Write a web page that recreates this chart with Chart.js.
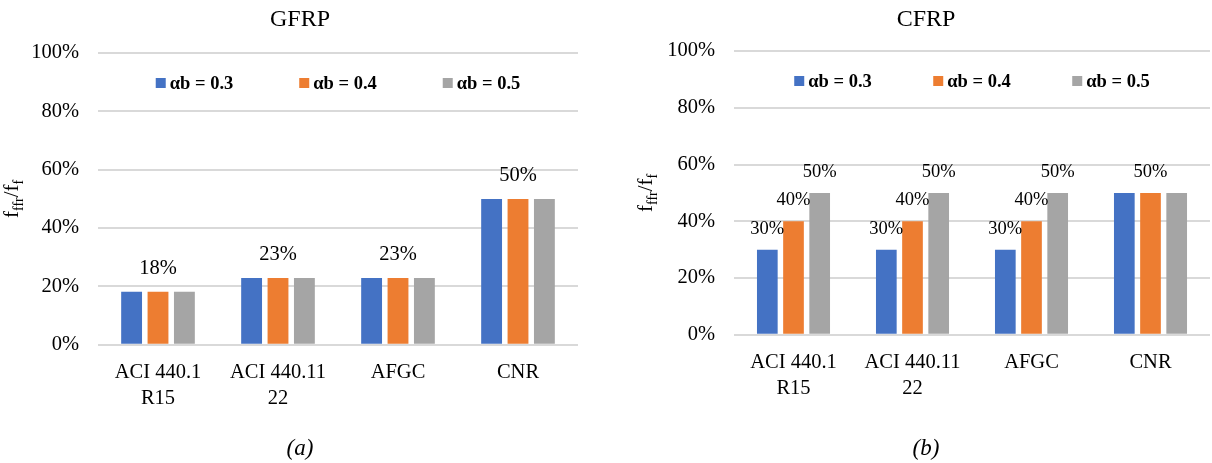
<!DOCTYPE html>
<html>
<head>
<meta charset="utf-8">
<script src="https://cdn.jsdelivr.net/npm/chart.js@4/dist/chart.umd.min.js"></script>
<style>
  body { margin: 0; background: #fff; width: 1212px; height: 463px; overflow: hidden; position: relative; }
  #gfrpChart { position: absolute; left: 0; top: 0; }
  #cfrpChart { position: absolute; left: 636px; top: 0; }
</style>
</head>
<body>
<canvas id="gfrpChart" width="600" height="463"></canvas>
<canvas id="cfrpChart" width="576" height="463"></canvas>
<script>
const labels = [['ACI 440.1', 'R15'], ['ACI 440.11', '22'], 'AFGC', 'CNR'];
const seriesNames = ['αb = 0.3', 'αb = 0.4', 'αb = 0.5'];
const colors = ['#4472C4', '#ED7D31', '#A5A5A5'];

// GFRP values (%)
const gfrp03 = [18.2, 22.9, 22.9, 50];
const gfrp04 = [18.2, 22.9, 22.9, 50];
const gfrp05 = [18.2, 22.9, 22.9, 50];
// CFRP values (%)
const cfrp03 = [30, 30, 30, 50];
const cfrp04 = [40, 40, 40, 50];
const cfrp05 = [50, 50, 50, 50];

// which bars carry a value label (per series, per category)
const gfrpShown = [[0, 0, 0, 0], [1, 1, 1, 1], [0, 0, 0, 0]];
const cfrpShown = [[1, 1, 1, 0], [1, 1, 1, 1], [1, 1, 1, 0]];

const serif = "'Liberation Serif', 'Times New Roman', serif";
Chart.defaults.font.family = serif;
Chart.defaults.color = '#000';

// value labels above bars
const valueLabels = {
  id: 'valueLabels',
  afterDatasetsDraw(chart, args, opts) {
    const ctx = chart.ctx;
    ctx.save();
    ctx.font = opts.size + 'px ' + serif;
    ctx.fillStyle = '#000';
    ctx.textAlign = 'center';
    ctx.textBaseline = 'middle';
    chart.data.datasets.forEach((ds, i) => {
      chart.getDatasetMeta(i).data.forEach((bar, j) => {
        if (!opts.shown[i][j]) return;
        ctx.fillText(Math.round(ds.data[j]) + '%', bar.x, bar.y - opts.offset);
      });
    });
    ctx.restore();
  }
};

// legend drawn inside the plot area
const insideLegend = {
  id: 'insideLegend',
  afterDraw(chart, args, opts) {
    const ctx = chart.ctx, area = chart.chartArea;
    const items = chart.data.datasets;
    ctx.save();
    ctx.font = 'bold ' + opts.size + 'px ' + serif;
    ctx.textBaseline = 'middle';
    const total = opts.spacing * (items.length - 1) + 14 + ctx.measureText(items[items.length - 1].label).width;
    let x = (area.left + area.right) / 2 - total / 2;
    const y = area.top + opts.offset;
    items.forEach(ds => {
      ctx.fillStyle = ds.backgroundColor;
      ctx.fillRect(x, y - 5, 10, 10);
      ctx.fillStyle = '#000';
      ctx.fillText(ds.label, x + 14, y + 1);
      x += opts.spacing;
    });
    ctx.restore();
  }
};

// y axis title f_ffr / f_f
const yTitle = {
  id: 'yTitle',
  afterDraw(chart, args, opts) {
    const ctx = chart.ctx, area = chart.chartArea;
    const parts = [['f', false], ['ffr', true], ['/f', false], ['f', true]];
    const mainFont = opts.size + 'px ' + serif;
    const subFont = opts.subSize + 'px ' + serif;
    ctx.save();
    let w = 0;
    parts.forEach(p => { ctx.font = p[1] ? subFont : mainFont; w += ctx.measureText(p[0]).width; });
    ctx.translate(opts.x, (area.top + area.bottom) / 2);
    ctx.rotate(-Math.PI / 2);
    ctx.fillStyle = '#000';
    ctx.textBaseline = 'alphabetic';
    let x = -w / 2;
    parts.forEach(p => {
      ctx.font = p[1] ? subFont : mainFont;
      ctx.fillText(p[0], x, p[1] ? opts.subShift : 0);
      x += ctx.measureText(p[0]).width;
    });
    ctx.restore();
  }
};

function makeConfig(series, title, caption, o) {
  return {
    type: 'bar',
    data: {
      labels: labels,
      datasets: series.map((d, i) => ({
        label: seriesNames[i],
        data: d,
        backgroundColor: colors[i],
        categoryPercentage: 0.66,
        barPercentage: 0.79
      }))
    },
    options: {
      responsive: false,
      animation: false,
      events: [],
      layout: { padding: { left: o.padLeft, right: o.padRight, top: 0, bottom: 0 } },
      scales: {
        x: {
          grid: { display: false },
          border: { display: false },
          ticks: { font: { size: 20.5, lineHeight: '26px' }, padding: 7, color: '#000', maxRotation: 0, autoSkip: false },
          afterFit(scale) { scale.height = o.xHeight; }
        },
        y: {
          min: 0,
          max: 100,
          grid: { color: '#d9d9d9', lineWidth: 2, drawTicks: false },
          border: { display: false },
          ticks: { stepSize: 20, padding: 19, font: { size: 20.5 }, color: '#000', callback: v => v + '%' },
          afterFit(scale) { scale.width = o.yWidth; }
        }
      },
      plugins: {
        legend: { display: false },
        tooltip: { enabled: false },
        title: { display: true, text: title, font: { size: 24, weight: 'normal' }, color: '#000', padding: { top: 5.5, bottom: o.titleBottom } },
        subtitle: { display: true, position: 'bottom', text: caption, font: { size: 23, style: 'italic' }, color: '#000', padding: 0 },
        valueLabels: { size: o.labelSize, offset: o.labelOffset, shown: o.shown },
        insideLegend: { size: 18.5, spacing: o.legendSpacing, offset: 30 },
        yTitle: { x: o.yTitleX, size: 21, subSize: 14, subShift: 5 }
      }
    },
    plugins: [valueLabels, insideLegend, yTitle]
  };
}

var gfrpChart = new Chart(document.getElementById('gfrpChart'),
  makeConfig([gfrp03, gfrp04, gfrp05], 'GFRP', '(a)', {
    padLeft: 22, padRight: 22, yWidth: 76, xHeight: 90.6, titleBottom: 18.7,
    labelSize: 20.5, labelOffset: 23, shown: gfrpShown, legendSpacing: 143.5, yTitleX: 18
  }));

var cfrpChart = new Chart(document.getElementById('cfrpChart'),
  makeConfig([cfrp03, cfrp04, cfrp05], 'CFRP', '(b)', {
    padLeft: 6, padRight: 2, yWidth: 92, xHeight: 100.6, titleBottom: 16.7,
    labelSize: 18.5, labelOffset: 21, shown: cfrpShown, legendSpacing: 139, yTitleX: 16
  }));
</script>
</body>
</html>
